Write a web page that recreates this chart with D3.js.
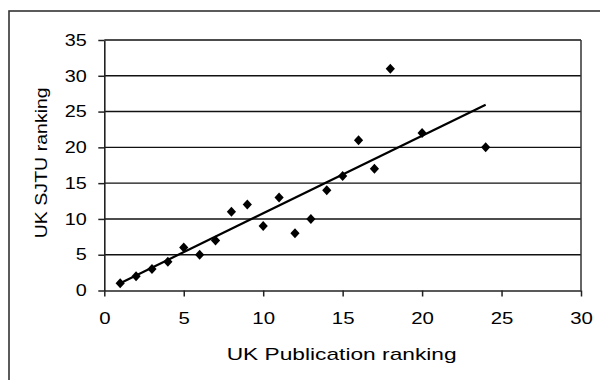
<!DOCTYPE html>
<html>
<head>
<meta charset="utf-8">
<script src="https://cdn.jsdelivr.net/npm/d3@7"></script>
<style>
  html, body { margin: 0; padding: 0; background: #fff; }
  svg { display: block; }
  text { font-family: "Liberation Sans", Arial, sans-serif; fill: #000; }
</style>
</head>
<body>
<svg id="chart" width="600" height="380"></svg>
<script>
// Publication ranking vs SJTU ranking for UK institutions
const pubRank  = [1, 2, 3, 4, 5, 6, 7, 8, 9, 10, 11, 12, 13, 14, 15, 16, 17, 18, 20, 24];
const sjtuRank = [1, 2, 3, 4, 6, 5, 7, 11, 12, 9, 13, 8, 10, 14, 16, 21, 17, 31, 22, 20];
const xTicks = [0, 5, 10, 15, 20, 25, 30];
const yTicks = [0, 5, 10, 15, 20, 25, 30, 35];
const xTitle = "UK Publication ranking";
const yTitle = "UK SJTU ranking";

const svg = d3.select("#chart");

const plot = { left: 104.3, right: 581, top: 40, bottom: 290.5 };

const x = d3.scaleLinear().domain([0, 30]).range([plot.left, plot.right]);
const y = d3.scaleLinear().domain([0, 35]).range([plot.bottom, plot.top]);

// outer chart frame (continues past the right and bottom edges)
svg.append("rect")
  .attr("x", 9).attr("y", 11)
  .attr("width", 640).attr("height", 420)
  .attr("fill", "#fff")
  .attr("stroke", "#333").attr("stroke-width", 1.6);

// horizontal gridlines
svg.append("g")
  .selectAll("line")
  .data(yTicks.filter(d => d > 0))
  .join("line")
  .attr("x1", plot.left).attr("x2", plot.right)
  .attr("y1", d => y(d)).attr("y2", d => y(d))
  .attr("stroke", "#111").attr("stroke-width", 1.4);

// plot area right edge
svg.append("line")
  .attr("x1", plot.right).attr("x2", plot.right)
  .attr("y1", plot.top).attr("y2", plot.bottom)
  .attr("stroke", "#333").attr("stroke-width", 1.5);

// stretch tick labels a little wider than the plain font
function widen(sel, factor) {
  sel.each(function () {
    const len = this.getComputedTextLength();
    d3.select(this)
      .attr("textLength", len * factor)
      .attr("lengthAdjust", "spacingAndGlyphs");
  });
}

// x axis
const xAxis = svg.append("g")
  .attr("transform", `translate(0,${plot.bottom})`)
  .call(d3.axisBottom(x).tickValues(xTicks).tickSize(6).tickPadding(15).tickSizeOuter(0));
xAxis.select(".domain").attr("stroke", "#222").attr("stroke-width", 1.6);
xAxis.selectAll(".tick line").attr("stroke", "#222").attr("stroke-width", 1.5);
xAxis.selectAll(".tick text")
  .style("font-family", "'Liberation Sans', Arial, sans-serif")
  .attr("font-size", 17).attr("fill", "#000")
  .call(widen, 1.2);

// y axis
const yAxis = svg.append("g")
  .attr("transform", `translate(${plot.left},0)`)
  .call(d3.axisLeft(y).tickValues(yTicks).tickSize(6).tickPadding(11.5).tickSizeOuter(0));
yAxis.select(".domain").attr("stroke", "#222").attr("stroke-width", 1.6);
yAxis.selectAll(".tick line").attr("stroke", "#222").attr("stroke-width", 1.5);
yAxis.selectAll(".tick text")
  .style("font-family", "'Liberation Sans', Arial, sans-serif")
  .attr("font-size", 16.5).attr("fill", "#000")
  .call(widen, 1.2);

// least-squares trend line over the plotted points
const n = pubRank.length;
const mx = d3.mean(pubRank), my = d3.mean(sjtuRank);
let sxy = 0, sxx = 0;
for (let i = 0; i < n; i++) {
  sxy += (pubRank[i] - mx) * (sjtuRank[i] - my);
  sxx += (pubRank[i] - mx) ** 2;
}
const slope = sxy / sxx, intercept = my - slope * mx;
const [x0, x1] = d3.extent(pubRank);
svg.append("line")
  .attr("x1", x(x0)).attr("y1", y(intercept + slope * x0))
  .attr("x2", x(x1)).attr("y2", y(intercept + slope * x1))
  .attr("stroke", "#000").attr("stroke-width", 2.2);

// diamond markers
const diamond = "M0,-5L4.6,0L0,5L-4.6,0Z";
svg.append("g")
  .selectAll("path")
  .data(pubRank.map((d, i) => [d, sjtuRank[i]]))
  .join("path")
  .attr("d", diamond)
  .attr("transform", d => `translate(${x(d[0])},${y(d[1])})`)
  .attr("fill", "#000");

// axis titles
svg.append("text")
  .attr("x", (plot.left + plot.right) / 2 - 1)
  .attr("y", 359.5)
  .attr("text-anchor", "middle")
  .attr("font-size", 17)
  .attr("textLength", 230)
  .attr("lengthAdjust", "spacingAndGlyphs")
  .text(xTitle);

svg.append("text")
  .attr("transform", `translate(47,${(plot.top + plot.bottom) / 2 - 2.5}) rotate(-90)`)
  .attr("text-anchor", "middle")
  .attr("font-size", 17)
  .attr("textLength", 151)
  .attr("lengthAdjust", "spacingAndGlyphs")
  .text(yTitle);
</script>
</body>
</html>
